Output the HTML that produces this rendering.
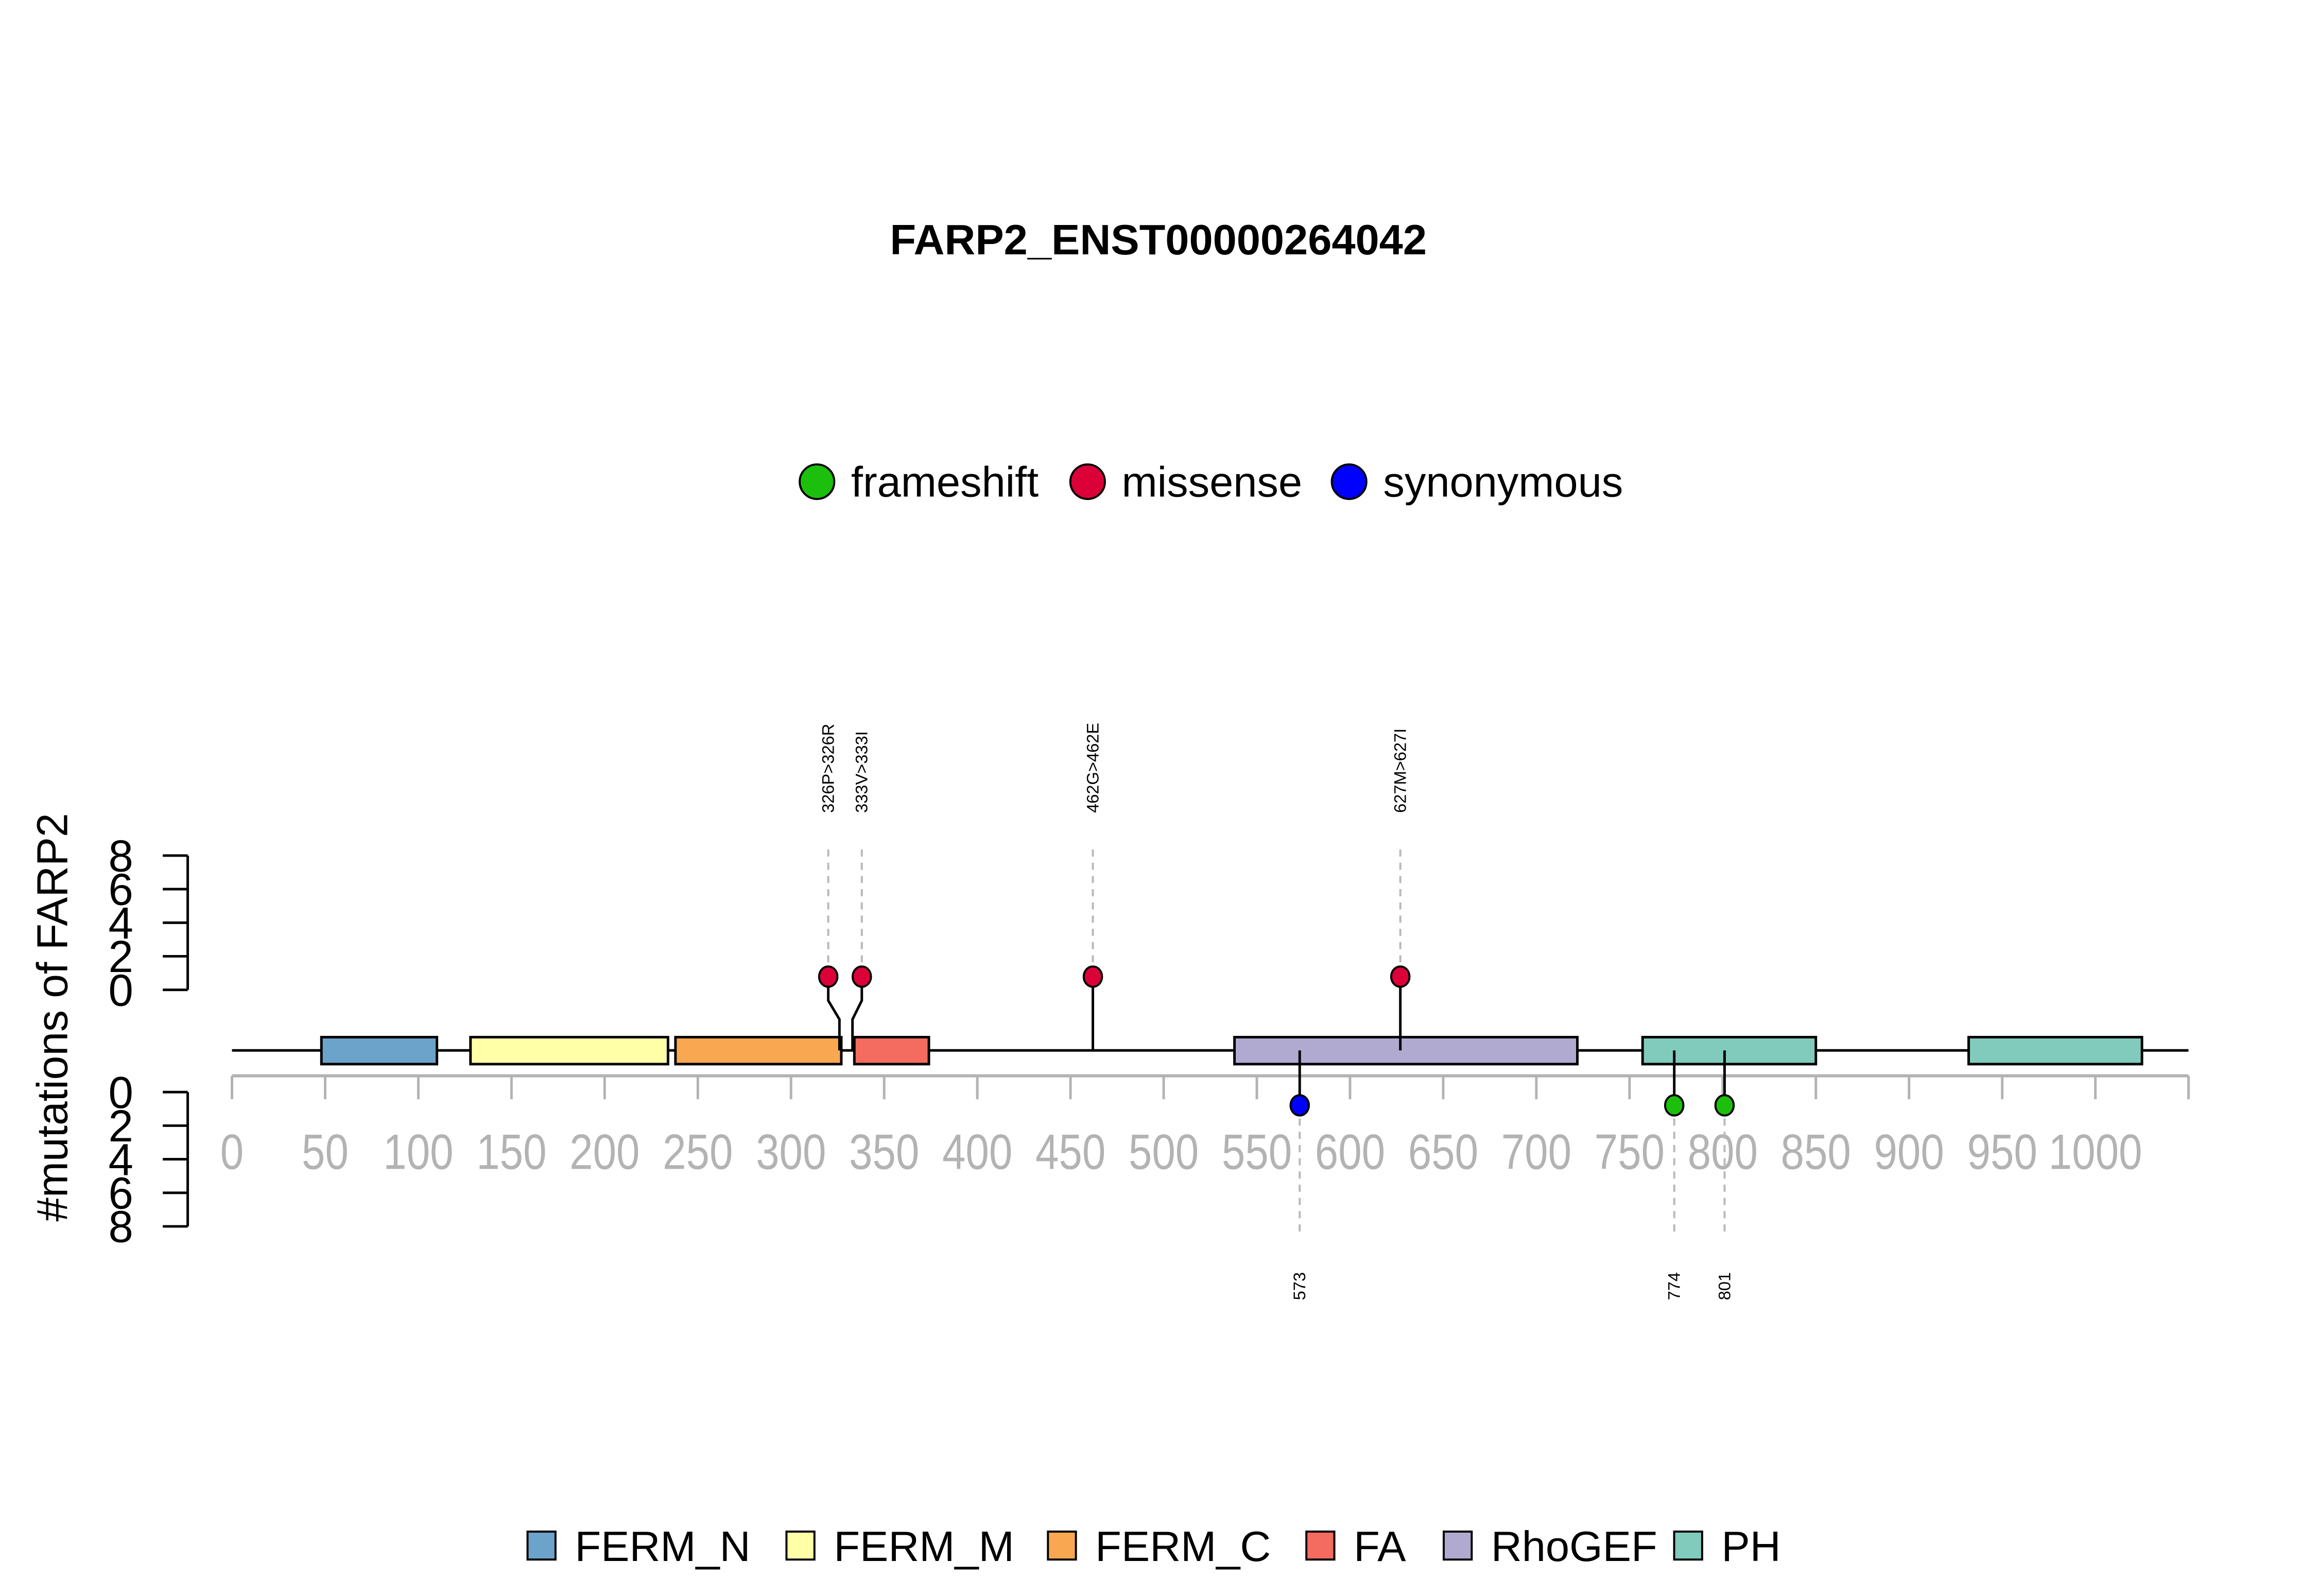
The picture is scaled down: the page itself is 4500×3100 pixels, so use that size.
<!DOCTYPE html>
<html><head><meta charset="utf-8"><style>html,body{margin:0;padding:0;background:#fff}svg{display:block}</style></head>
<body>
<svg id="chart" width="4500" height="3100" viewBox="0 0 4500 3100" xmlns="http://www.w3.org/2000/svg" font-family="Liberation Sans, Arial, sans-serif">
<rect width="4500" height="3100" fill="#fff"/>
<g transform="scale(0.988)">
<text x="2277" y="500" font-size="84" font-weight="bold" text-anchor="middle">FARP2_ENST00000264042</text>
<g id="legend-top"></g>
<text transform="translate(132,2000) rotate(-90)" font-size="85" text-anchor="middle">#mutations of FARP2</text>
<g id="plot"></g>
<g id="legend-bottom"></g>
</g>
</svg>
<script>
const domainNames = ["FERM_N","FERM_M","FERM_C","FA","RhoGEF","PH","PH"];
const domainStart = [48,128,238,334,538,757,932];
const domainEnd = [110,234,327,374,722,850,1025];
const domainColors = {"FERM_N":"#6ca3cb","FERM_M":"#ffffa8","FERM_C":"#f9a751","FA":"#f46b5f","RhoGEF":"#b0aad1","PH":"#80cbbc"};
const mutPos = [326,333,462,627,573,774,801];
const mutPlotPos = [320,338,462,627,573,774,801];
const mutType = ["missense","missense","missense","missense","synonymous","frameshift","frameshift"];
const mutLabel = ["326P>326R","333V>333I","462G>462E","627M>627I","573","774","801"];
const mutUp = [true,true,true,true,false,false,false];
const typeNames = ["frameshift","missense","synonymous"];
const typeColors = {"frameshift":"#1cbf0c","missense":"#dc0038","synonymous":"#0000ff"};
const xTicks = [0,50,100,150,200,250,300,350,400,450,500,550,600,650,700,750,800,850,900,950,1000,1050];
const yTicks = [0,2,4,6,8];

const NS="http://www.w3.org/2000/svg";
const plot=document.getElementById('plot');
function mk(tag,attrs,parent){const e=document.createElementNS(NS,tag);for(const k in attrs)e.setAttribute(k,attrs[k]);(parent||plot).appendChild(e);return e;}
const X=v=>456+v*3.663;
const backY=2065, boxTop=2039, boxBot=2092, axY=2115;
const upY0=1946, upPer=(1946-1682)/8;
const dnY0=2147, dnPer=(2411-2147)/8;

let bb=mk('line',{x1:456,y1:backY,x2:4302,y2:backY,stroke:'#000','stroke-width':5});



let ax=mk('line',{x1:X(0),y1:axY,x2:X(1050),y2:axY,stroke:'#b3b3b3','stroke-width':6});


xTicks.forEach(t=>{
  let tk=mk('line',{x1:X(t),y1:axY,x2:X(t),y2:axY+46,stroke:'#b3b3b3','stroke-width':5});
  
  
  if(t<=1000){
    const s=String(t);
    let tl=mk('text',{x:X(t),y:2298,'font-size':98,fill:'#b3b3b3','text-anchor':'middle',textLength:s.length*46,lengthAdjust:'spacingAndGlyphs'});
    tl.textContent=s;
    
    
  }
});

function yAxis(y0,per,dir,name){
  let a=mk('line',{x1:369,y1:y0,x2:369,y2:y0+dir*8*per,stroke:'#000','stroke-width':5});
  
  
  yTicks.forEach(v=>{
    const y=y0+dir*v*per;
    let t=mk('line',{x1:320,y1:y,x2:369,y2:y,stroke:'#000','stroke-width':5});
    
    
    let l=mk('text',{x:262,y:y+31,'font-size':88,'text-anchor':'end'});
    l.textContent=v;
    
    
  });
}
yAxis(upY0,upPer,-1,'upper-y-axis');
yAxis(dnY0,dnPer,1,'lower-y-axis');

domainNames.forEach((n,i)=>{
  let r=mk('rect',{x:X(domainStart[i]),y:boxTop,width:X(domainEnd[i])-X(domainStart[i]),height:boxBot-boxTop,fill:domainColors[n],stroke:'#000','stroke-width':5});
  
  
});

mutPos.forEach((p,i)=>{
  const up=mutUp[i];
  const px=X(mutPlotPos[i]), ax0=X(p);
  const py=up?1920:2173;
  if(up){
    let d=mk('line',{x1:px,y1:1670,x2:px,y2:py,stroke:'#b8b8b8','stroke-width':4,'stroke-dasharray':'14,12'});
    
    
    let s=mk('polyline',{points:`${px},${py} ${px},1967 ${ax0},2004 ${ax0},${backY}`,fill:'none',stroke:'#000','stroke-width':5});
    
    
    let t=mk('text',{transform:`translate(${px+11},1598) rotate(-90)`,'font-size':33});
    t.textContent=mutLabel[i];
    
    
  } else {
    let d=mk('line',{x1:px,y1:py,x2:px,y2:2426,stroke:'#b8b8b8','stroke-width':4,'stroke-dasharray':'14,12'});
    
    
    let s=mk('line',{x1:px,y1:backY,x2:px,y2:py,stroke:'#000','stroke-width':5});
    
    
    let t=mk('text',{transform:`translate(${px+11},2556) rotate(-90)`,'font-size':33});
    t.textContent=mutLabel[i];
    
    
  }
  let c=mk('ellipse',{cx:px,cy:py,rx:18,ry:20,fill:typeColors[mutType[i]],stroke:'#000','stroke-width':4});
  
  
});

const lt=document.getElementById('legend-top');
const legX=[1606,2138,2652];
typeNames.forEach((n,i)=>{
  let c=mk('circle',{cx:legX[i],cy:947,r:34,fill:typeColors[n],stroke:'#000','stroke-width':4},lt);
  
  
  let t=mk('text',{x:legX[i]+67,y:976,'font-size':84},lt);
  t.textContent=n;
  
  
});

const lb=document.getElementById('legend-bottom');
const legNames=["FERM_N","FERM_M","FERM_C","FA","RhoGEF","PH"];
const legSqX=[1037,1546,2060,2568,2838,3291];
legNames.forEach((n,i)=>{
  let r=mk('rect',{x:legSqX[i],y:3011,width:55,height:55,fill:domainColors[n],stroke:'#000','stroke-width':4},lb);
  
  
  let t=mk('text',{x:legSqX[i]+93,y:3069,'font-size':84},lb);
  t.textContent=n;
  
  
});
</script>
</body></html>
